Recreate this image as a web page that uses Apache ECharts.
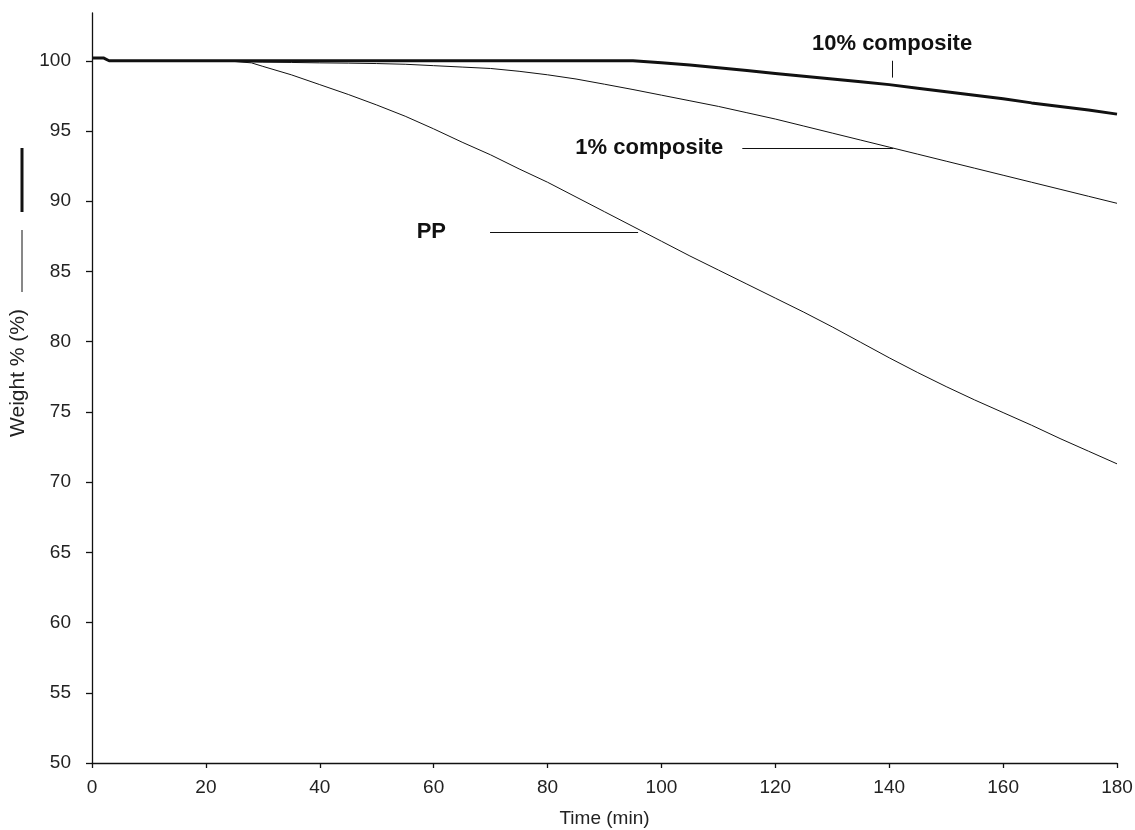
<!DOCTYPE html>
<html>
<head>
<meta charset="utf-8">
<script src="https://cdn.jsdelivr.net/npm/echarts@6/dist/echarts.min.js"></script>
<style>html,body{margin:0;padding:0;background:#fff}#c{width:1135px;height:830px}</style>
</head>
<body>
<div id="c"></div>
<script>
// ---- data ----
const timeMin = [0, 2, 3, 5, 10, 15, 20, 25, 28, 30, 35, 40, 45, 50, 55, 60, 65, 70, 75, 80, 85, 90, 95, 100, 105, 110, 115, 120, 125, 130, 135, 140, 145, 150, 155, 160, 165, 170, 175, 180];
const ppWeight = [100.2, 100.2, 100.0, 100.0, 100.0, 100.0, 100.0, 99.95, 99.85, 99.6, 99.0, 98.3, 97.6, 96.85, 96.05, 95.15, 94.2, 93.3, 92.3, 91.35, 90.3, 89.25, 88.2, 87.15, 86.1, 85.1, 84.1, 83.1, 82.1, 81.05, 79.95, 78.85, 77.8, 76.8, 75.85, 74.95, 74.05, 73.1, 72.2, 71.3];
const comp1Weight = [100.2, 100.2, 100.0, 100.0, 100.0, 100.0, 100.0, 99.95, 99.92, 99.9, 99.88, 99.85, 99.83, 99.8, 99.75, 99.65, 99.55, 99.45, 99.25, 99.0, 98.7, 98.33, 97.95, 97.55, 97.15, 96.75, 96.3, 95.85, 95.35, 94.85, 94.35, 93.85, 93.35, 92.85, 92.35, 91.85, 91.35, 90.85, 90.35, 89.85];
const comp10Weight = [100.2, 100.2, 100.0, 100.0, 100.0, 100.0, 100.0, 100.0, 100.0, 100.0, 100.0, 100.0, 100.0, 100.0, 100.0, 100.0, 100.0, 100.0, 100.0, 100.0, 100.0, 100.0, 100.0, 99.85, 99.7, 99.5, 99.3, 99.1, 98.9, 98.7, 98.5, 98.3, 98.05, 97.8, 97.55, 97.3, 97.0, 96.75, 96.5, 96.2];
const yTickValues = [50, 55, 60, 65, 70, 75, 80, 85, 90, 95, 100];
const seriesNames = ['PP', '1% composite', '10% composite'];
// annotation leader lines (in data units)
const ppLeader = [[69.9, 87.8], [95.9, 87.8]];
const comp1Leader = [[114.2, 93.8], [140.7, 93.8]];
const comp10Leader = [[140.5, 98.8], [140.5, 100.0]];

const pair = (ys) => timeMin.map((t, i) => [t, ys[i]]);
const FONT = '"Liberation Sans", Arial, sans-serif';
const INK = '#111';

function leader(coords, label, pos, dist) {
  return {
    silent: true,
    symbol: 'none',
    lineStyle: { color: INK, width: 1, type: 'solid' },
    label: {
      show: true, position: pos, distance: dist, formatter: label,
      color: INK, fontFamily: FONT, fontSize: 22, fontWeight: 'bold'
    },
    emphasis: { disabled: true },
    data: [[{ coord: coords[0] }, { coord: coords[1] }]]
  };
}

const chart = echarts.init(document.getElementById('c'), null, { renderer: 'canvas' });
chart.setOption({
  animation: false,
  backgroundColor: '#fff',
  grid: { left: 92, right: 18, top: 13, bottom: 67, containLabel: false, outerBoundsMode: 'none' },
  xAxis: {
    type: 'value', min: 0, max: 180, interval: 20,
    name: 'Time (min)', nameLocation: 'middle', nameGap: 46,
    nameTextStyle: { color: '#222', fontFamily: FONT, fontSize: 19 },
    axisLine: { show: true, lineStyle: { color: INK, width: 1.3 } },
    axisTick: { show: true, length: 5, lineStyle: { color: INK, width: 1.3 } },
    axisLabel: { color: '#222', fontFamily: FONT, fontSize: 19, margin: 15 },
    splitLine: { show: false }
  },
  yAxis: {
    type: 'value', min: 50, max: 103.4, interval: 5,
    name: 'Weight % (%)', nameLocation: 'middle', nameGap: 58, nameRotate: 90,
    nameTextStyle: { color: '#222', fontFamily: FONT, fontSize: 21, padding: [0, 0, 0, 30] },
    axisLine: { show: true, lineStyle: { color: INK, width: 1.3 } },
    axisTick: { show: true, length: 6, customValues: yTickValues, lineStyle: { color: INK, width: 1.3 } },
    axisLabel: { color: '#222', fontFamily: FONT, fontSize: 19, margin: 21, customValues: yTickValues },
    splitLine: { show: false }
  },
  graphic: [
    { type: 'line', shape: { x1: 22, y1: 148, x2: 22, y2: 212 }, style: { stroke: INK, lineWidth: 3 }, silent: true },
    { type: 'line', shape: { x1: 22, y1: 230, x2: 22, y2: 292 }, style: { stroke: INK, lineWidth: 1 }, silent: true }
  ],
  series: [
    {
      name: seriesNames[0], type: 'line', data: pair(ppWeight), showSymbol: false, smooth: false,
      lineStyle: { color: INK, width: 1 }, z: 3,
      markLine: leader(ppLeader, 'PP', 'start', 44)
    },
    {
      name: seriesNames[1], type: 'line', data: pair(comp1Weight), showSymbol: false,
      lineStyle: { color: INK, width: 1 }, z: 3,
      markLine: leader(comp1Leader, '1% composite', 'start', 19)
    },
    {
      name: seriesNames[2], type: 'line', data: pair(comp10Weight), showSymbol: false,
      lineStyle: { color: INK, width: 3 }, z: 4,
      markLine: leader(comp10Leader, '10% composite', 'end', 6)
    }
  ]
});
</script>
</body>
</html>
